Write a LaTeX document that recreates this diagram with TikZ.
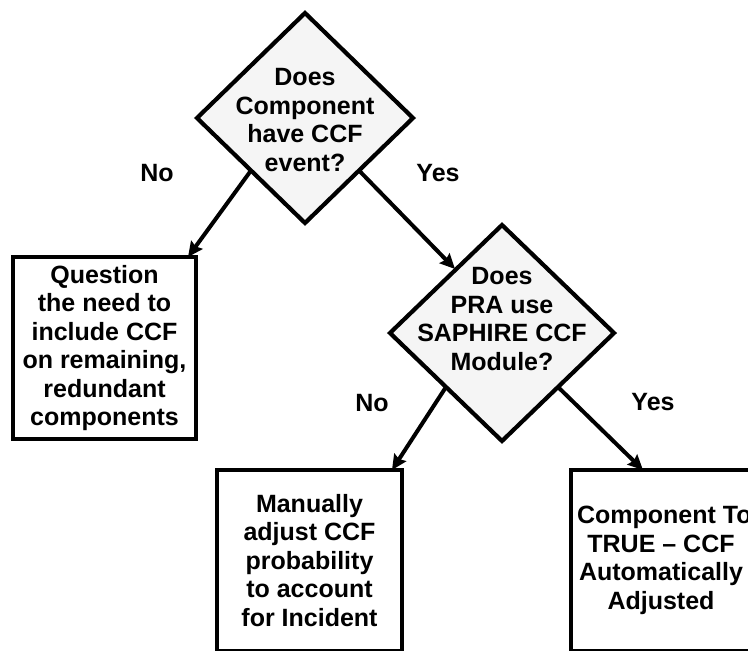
\documentclass[tikz,border=0pt]{standalone}
\usepackage{fontspec}
\setmainfont{Liberation Sans}
\usetikzlibrary{shapes.geometric,arrows.meta}
\begin{document}
\begin{tikzpicture}[x=1pt,y=-1pt,
  txt/.style={font=\fontsize{25}{28.5}\selectfont\bfseries, align=center, inner sep=0pt},
  dia/.style={diamond, draw, line width=4.2pt, fill=black!4, inner sep=0pt, outer sep=0pt, aspect=1},
  boxx/.style={rectangle, draw, line width=4.2pt, fill=white, inner sep=0pt, outer sep=0pt, txt},
  arr/.style={line width=4pt, -{Stealth[length=15pt,width=14pt,inset=2pt]}},
  lab/.style={txt}
]
\useasboundingbox (0,0) rectangle (748,651);
\clip (0,0) rectangle (748,651);
\fill[white] (0,0) rectangle (748,651);

\node[dia, minimum width=216pt, minimum height=210pt] (d1) at (305,118) {};
\node[txt] (d1t) at (305,120) {Does\\Component\\have CCF\\event?};

\node[dia, minimum width=224pt, minimum height=216pt] (d2) at (502,333) {};
\node[txt] (d2t) at (502,319) {Does\\PRA use\\SAPHIRE CCF\\Module?};

\node[boxx, minimum width=183pt, minimum height=182pt] (b1) at (104.5,348)
  {Question\\the need to\\include CCF\\on remaining,\\redundant\\components};
\node[boxx, minimum width=185pt, minimum height=181pt] (b2) at (309.5,560.5)
  {Manually\\adjust CCF\\probability\\to account\\for Incident};
\node[boxx, minimum width=180pt, minimum height=181pt] (b3) at (661,560.5)
  {\makebox[0pt][l]{\hspace{-84pt}Component To}\\TRUE -- CCF\\Automatically\\Adjusted};

\node[lab] (no1) at (157,173) {No};
\node[lab] (yes1) at (438,173) {Yes};
\node[lab] (no2) at (372,403) {No};
\node[lab] (yes2) at (653,402) {Yes};

\draw[arr] (d1.south west) -- ([shift={(-8,0)}]b1.north east);
\draw[arr] (d1.south east) -- ([shift={(9,-10)}]d2.north west);
\draw[arr] (d2.south west) -- ([shift={(-10,0)}]b2.north east);
\draw[arr] (d2.south east) -- ([shift={(-18,0)}]b3.north);
\end{tikzpicture}
\end{document}
